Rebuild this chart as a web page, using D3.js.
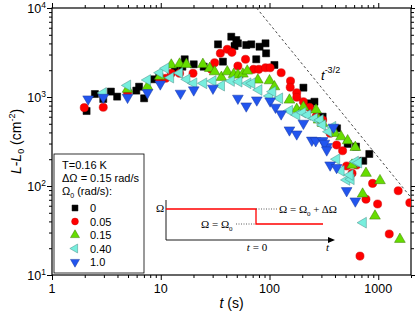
<!DOCTYPE html>
<html><head><meta charset="utf-8">
<script src="https://cdn.jsdelivr.net/npm/d3@7"></script>
<style>body{margin:0;background:#fff}svg{display:block}</style>
</head><body>
<svg id="c" width="415" height="313"></svg>
<script>
// ---- data (t in s, L-L0 in cm^-2) ----
const seriesNames = ["0", "0.05", "0.15", "0.40", "1.0"];
const s0 = [[2.08,696],[2.48,1080],[2.96,950],[3.48,1150],[3.97,1010],[5.96,1180],[6.32,1306],[7.03,967],[8.68,1581],[9.69,1690],[13.5,2010],[15.8,2190],[16.6,2653],[20.1,2330],[24.8,2190],[33.6,3905],[37.3,2495],[44.5,4760],[47.7,3740],[49.5,4365],[51.2,4010],[61.1,3840],[68,3905],[75.5,2653],[81,3673],[91.9,4010],[93,3097],[111,2290],[205,1273],[236,849],[259,885],[308,601],[418,445],[523,297],[624,277],[728,192],[827,229]];
const s005 = [[1.98,759],[2.96,766],[4.95,1110],[9.8,1553],[11.1,1622],[12.5,1846],[14.9,1846],[19.8,1846],[29.2,2047],[31.3,2429],[35.3,3097],[40.9,3435],[45.1,3178],[51.2,2230],[60.2,2653],[71.3,2047],[79.8,2047],[91.9,2133],[101.4,2133],[128,1874],[156,1513],[155,1286],[178,1117],[178,993],[205,885],[233,766],[268,601],[308,552],[361,391],[414,289],[470,249],[512,168],[574,139],[632,172],[771,71],[887,107],[986,62.8],[1525,88.5],[1950,64.9],[1262,28.9],[679,16.3]];
const s015 = [[4.95,1222],[7.55,1306],[9.8,1710],[12.5,2290],[14.9,2350],[17.2,2330],[24.4,2330],[28.2,2100],[31.3,1923],[36.1,1665],[40.9,1923],[46.8,1799],[51.2,1767],[56.9,1813],[62.4,1960],[78.1,1553],[100,1525],[111,1306],[152.5,925],[178,728],[205,772],[268,715],[283,552],[308,506],[401,391],[455,358],[523,323],[615,272],[574,172],[771,139],[1037,115],[718,81.3],[933,46],[1581,25.2]];
const s040 = [[2.96,1110],[4.95,1350],[7.55,1553],[9.8,1874],[11.1,2100],[12.3,1650],[14.9,1862],[17.4,1581],[20.1,1426],[24.8,1426],[30.2,1513],[36.1,1340],[44.5,1513],[52.3,1486],[63.2,1426],[68.8,1426],[79.8,1200],[100,1026],[107,1147],[123.6,967],[152.5,702],[178,628],[202,667],[224,628],[259,577],[292,552],[308,484],[381,463],[350,407],[414,200],[455,148],[512,117],[562,119],[550,133],[615,188],[659,183],[728,38.7]];
const s10 = [[2.15,950],[2.96,990],[4.95,990],[7.55,1117],[9.9,1400],[15.2,1101],[20.1,1200],[30.2,1254],[51.2,967],[61.1,792],[76.4,925],[101.4,902],[113.5,766],[128,645],[152.5,426],[178,384],[205,506],[245,327],[266,322],[308,323],[387,457],[338,277],[320,302],[336,254],[361,172],[414,161],[512,88.5],[615,67.8]];
const xMajor = [1, 10, 100, 1000];
const yMajorExp = [1, 2, 3, 4];
const powerLawC = 6.64e6; // t^-3/2 guide

const W = 415, H = 313;
const m = {l:52, r:411, t:8, b:275};
const svg = d3.select("#c");
const x = d3.scaleLog().domain([1, 2000]).range([m.l, m.r]);
const y = d3.scaleLog().domain([10, 1e4]).range([m.b, m.t]);
const font = "Liberation Sans, Arial, sans-serif";
const serif = "Liberation Serif, Times New Roman, serif";

function minorVals(lo, hi){ const v=[]; for(let d=lo; d<hi; d*=10){ for(let k=2;k<=9;k++){ const t=d*k; if(t<=hi) v.push(t);} } return v; }
const xMinor = minorVals(1, 2000);
const yMinor = minorVals(10, 1e4);

// axes
function drawAxis(gen, transform, vals, size){
  const g = svg.append("g").attr("transform", transform)
    .call(gen.tickValues(vals).tickSize(size).tickFormat(""));
  g.select(".domain").remove();
  g.selectAll("line").attr("stroke","#000").attr("stroke-width",1);
  return g;
}
drawAxis(d3.axisBottom(x), `translate(0,${m.b})`, xMajor, 5);
drawAxis(d3.axisBottom(x), `translate(0,${m.b})`, xMinor, 3);
drawAxis(d3.axisBottom(x), `translate(0,${m.t})`, xMajor, -5);
drawAxis(d3.axisBottom(x), `translate(0,${m.t})`, xMinor, -3);
drawAxis(d3.axisLeft(y), `translate(${m.l},0)`, yMajorExp.map(e=>Math.pow(10,e)), 5);
drawAxis(d3.axisLeft(y), `translate(${m.l},0)`, yMinor, 3);
drawAxis(d3.axisLeft(y), `translate(${m.r},0)`, yMajorExp.map(e=>Math.pow(10,e)), -5);
drawAxis(d3.axisLeft(y), `translate(${m.r},0)`, yMinor, -3);
svg.append("rect").attr("x",m.l).attr("y",m.t).attr("width",m.r-m.l).attr("height",m.b-m.t)
  .attr("fill","none").attr("stroke","#000").attr("stroke-width",1.2);

// tick labels
svg.append("g").selectAll("text").data(xMajor).join("text")
  .attr("x", d=>x(d)).attr("y", m.b+18).attr("text-anchor","middle")
  .attr("font-family",font).attr("font-size",12.5).text(d=>String(d));
const yl = svg.append("g").selectAll("text").data(yMajorExp).join("text")
  .attr("x", m.l-6).attr("y", d=>y(Math.pow(10,d))+5).attr("text-anchor","end")
  .attr("font-family",font).attr("font-size",12.5);
yl.append("tspan").text("10");
yl.append("tspan").attr("dy",-5).attr("font-size",8.5).text(d=>d);

// axis titles
const xt = svg.append("text").attr("x",(m.l+m.r)/2).attr("y",308).attr("text-anchor","middle")
  .attr("font-family",font).attr("font-size",14);
xt.append("tspan").attr("font-style","italic").text("t");
xt.append("tspan").text(" (s)");
const ytt = svg.append("text").attr("transform",`translate(21,${(m.t+m.b)/2}) rotate(-90)`)
  .attr("text-anchor","middle").attr("font-family",font).attr("font-size",14);
ytt.append("tspan").attr("font-style","italic").text("L");
ytt.append("tspan").text("-");
ytt.append("tspan").attr("font-style","italic").text("L");
ytt.append("tspan").attr("dy",3).attr("font-size",9).text("0");
ytt.append("tspan").attr("dy",-3).text(" (cm");
ytt.append("tspan").attr("dy",-6).attr("font-size",9).text("-2");
ytt.append("tspan").attr("dy",6).text(")");

// power law guide
const clip = svg.append("clipPath").attr("id","pc").append("rect")
  .attr("x",m.l).attr("y",m.t).attr("width",m.r-m.l).attr("height",m.b-m.t);
const tStart = Math.pow(powerLawC/1e4, 2/3);
const guide = [tStart, 2000].map(t=>[t, powerLawC*Math.pow(t,-1.5)]);
svg.append("path").attr("clip-path","url(#pc)")
  .attr("d", d3.line().x(d=>x(d[0])).y(d=>y(d[1]))(guide))
  .attr("stroke","#333").attr("stroke-width",0.9).attr("stroke-dasharray","2.5,2.5").attr("fill","none");
const gl = svg.append("text").attr("x",321).attr("y",80).attr("font-family",font).attr("font-size",13);
gl.append("tspan").attr("font-style","italic").text("t");
gl.append("tspan").attr("dy",-7).attr("font-size",9).text("-3/2");

// series
const styles = [
  {data:s0,   type:d3.symbolSquare,   size:50, rot:0,   fill:"#000000", stroke:"#000000"},
  {data:s005, type:d3.symbolCircle,   size:52, rot:0,   fill:"#ff0000", stroke:"#cc0000"},
  {data:s015, type:d3.symbolTriangle, size:50, rot:0,   fill:"#66dd00", stroke:"#3a7a00"},
  {data:s040, type:d3.symbolTriangle, size:50, rot:-90, fill:"#77eedd", stroke:"#4a8f88"},
  {data:s10,  type:d3.symbolTriangle, size:50, rot:180, fill:"#2255ee", stroke:"#1a3aa0"}
];
const pg = svg.append("g").attr("clip-path","url(#pc)");
styles.forEach(s=>{
  pg.append("g").selectAll("path").data(s.data).join("path")
    .attr("d", d3.symbol().type(s.type).size(s.size))
    .attr("transform", d=>`translate(${x(d[0])},${y(d[1])}) rotate(${s.rot})`)
    .attr("fill", s.fill).attr("stroke", s.stroke).attr("stroke-width",0.5);
});

// legend
const lg = svg.append("g");
lg.append("rect").attr("x",54).attr("y",154).attr("width",90).attr("height",119)
  .attr("fill","#fff").attr("stroke","#000").attr("stroke-width",0.8);
lg.append("text").attr("x",62).attr("y",169).attr("font-family",font).attr("font-size",11).text("T=0.16 K");
lg.append("text").attr("x",62).attr("y",182).attr("font-family",font).attr("font-size",11).text("ΔΩ = 0.15 rad/s");
const l3 = lg.append("text").attr("x",62).attr("y",195).attr("font-family",font).attr("font-size",11);
l3.append("tspan").text("Ω");
l3.append("tspan").attr("dy",3).attr("font-size",7).text("0");
l3.append("tspan").attr("dy",-3).text(" (rad/s):");
styles.forEach((s,i)=>{
  const yy = 208 + i*13.5;
  lg.append("path").attr("d", d3.symbol().type(s.type).size(s.size*0.7))
    .attr("transform",`translate(75,${yy}) rotate(${s.rot})`)
    .attr("fill",s.fill).attr("stroke",s.stroke).attr("stroke-width",0.5);
  lg.append("text").attr("x",90).attr("y",yy+4).attr("font-family",font).attr("font-size",11).text(seriesNames[i]);
});

// inset: step diagram
const ins = svg.append("g");
const ax0 = 166, ay0 = 240, yHi = 209, yLo = 224, xStep = 256, xEnd = 323, xArrow = 335;
ins.append("line").attr("x1",ax0).attr("y1",ay0).attr("x2",ax0).attr("y2",200).attr("stroke","#000").attr("stroke-width",0.9);
ins.append("line").attr("x1",ax0).attr("y1",ay0).attr("x2",xArrow-4).attr("y2",ay0).attr("stroke","#000").attr("stroke-width",0.9);
ins.append("path").attr("d",`M${xArrow},${ay0} L${xArrow-7},${ay0-3} L${xArrow-7},${ay0+3} Z`).attr("fill","#000");
ins.append("path").attr("d",`M${ax0},${yHi} H${xStep} V${yLo} H${xEnd}`).attr("fill","none").attr("stroke","#ff0000").attr("stroke-width",1.3);
ins.append("line").attr("x1",xStep).attr("y1",yHi).attr("x2",277).attr("y2",yHi).attr("stroke","#333").attr("stroke-width",0.8).attr("stroke-dasharray","1,1.5");
ins.append("line").attr("x1",236).attr("y1",yLo).attr("x2",xStep).attr("y2",yLo).attr("stroke","#333").attr("stroke-width",0.8).attr("stroke-dasharray","1,1.5");
ins.append("text").attr("x",156).attr("y",yHi+3).attr("font-family",serif).attr("font-size",11).text("Ω");
const t1 = ins.append("text").attr("x",279).attr("y",yHi+4).attr("font-family",serif).attr("font-size",11);
t1.append("tspan").text("Ω = Ω");
t1.append("tspan").attr("dy",3).attr("font-size",7).text("0");
t1.append("tspan").attr("dy",-3).text(" + ΔΩ");
const t2 = ins.append("text").attr("x",201).attr("y",yLo+4).attr("font-family",serif).attr("font-size",11);
t2.append("tspan").text("Ω = Ω");
t2.append("tspan").attr("dy",3).attr("font-size",7).text("0");
const t3 = ins.append("text").attr("x",257).attr("y",251).attr("text-anchor","middle").attr("font-family",serif).attr("font-size",11);
t3.append("tspan").attr("font-style","italic").text("t");
t3.append("tspan").text(" = 0");
ins.append("text").attr("x",326).attr("y",251).attr("font-family",serif).attr("font-style","italic").attr("font-size",11).text("t");
</script>
</body></html>
